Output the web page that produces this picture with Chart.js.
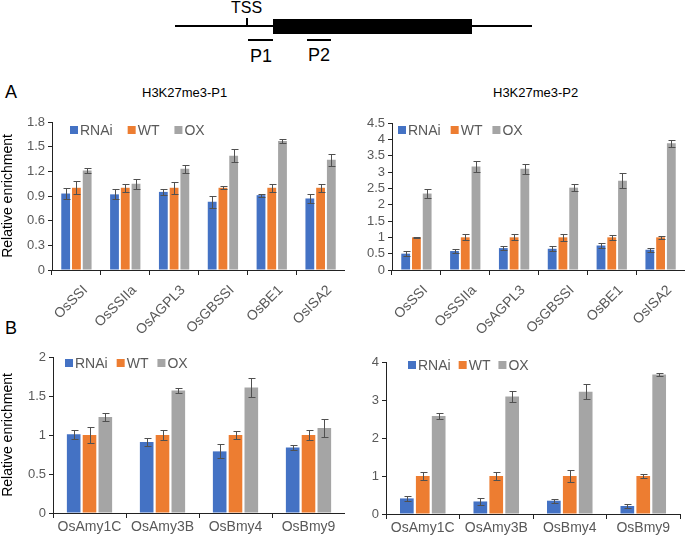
<!DOCTYPE html>
<html>
<head>
<meta charset="UTF-8">
<title>H3K27me3 enrichment</title>
<script src="https://cdn.jsdelivr.net/npm/chart.js@4.4.1/dist/chart.umd.min.js"></script>
<style>
  body { margin: 0; background: #fff; font-family: "Liberation Sans", Arial, sans-serif; }
  #page { position: relative; width: 685px; height: 538px; overflow: hidden; }
  .abs { position: absolute; }
  .ln { position: absolute; background: #000; }
  .txt { position: absolute; color: #000; white-space: nowrap; }
</style>
</head>
<body>
<div id="page">
  <!-- gene diagram -->
  <div class="ln" style="left:175px;top:25px;width:357px;height:2px"></div>
  <div class="ln" style="left:246px;top:18px;width:2px;height:8px"></div>
  <div class="ln" style="left:273px;top:19px;width:199px;height:15px"></div>
  <div class="ln" style="left:248px;top:39px;width:25px;height:2px"></div>
  <div class="ln" style="left:307px;top:39px;width:24px;height:2px"></div>
  <div class="txt" style="left:231px;top:-1px;font-size:16px">TSS</div>
  <div class="txt" style="left:250px;top:46px;font-size:18px">P1</div>
  <div class="txt" style="left:308px;top:45px;font-size:18px">P2</div>

  <div class="txt" style="left:5px;top:82px;font-size:18px">A</div>
  <div class="txt" style="left:5px;top:318px;font-size:18px">B</div>
  <div class="txt" style="left:142px;top:85px;font-size:13px">H3K27me3-P1</div>
  <div class="txt" style="left:493px;top:85px;font-size:13px">H3K27me3-P2</div>

  <div class="abs" style="left:0;top:110px;width:345px;height:225px"><canvas id="a1"></canvas></div>
  <div class="abs" style="left:340px;top:110px;width:345px;height:225px"><canvas id="a2"></canvas></div>
  <div class="abs" style="left:0;top:340px;width:345px;height:198px"><canvas id="b1"></canvas></div>
  <div class="abs" style="left:340px;top:340px;width:345px;height:198px"><canvas id="b2"></canvas></div>
</div>

<script>
// categories
const promoterGenes = ['OsSSI', 'OsSSIIa', 'OsAGPL3', 'OsGBSSI', 'OsBE1', 'OsISA2'];
const amylaseGenes = ['OsAmy1C', 'OsAmy3B', 'OsBmy4', 'OsBmy9'];

// H3K27me3-P1
const p1Rnai = [0.93, 0.92, 0.95, 0.83, 0.91, 0.87];
const p1RnaiErr = [0.07, 0.06, 0.04, 0.07, 0.02, 0.05];
const p1Wt = [1.0, 1.0, 1.0, 1.0, 1.0, 1.0];
const p1WtErr = [0.08, 0.05, 0.07, 0.02, 0.05, 0.05];
const p1Ox = [1.21, 1.05, 1.23, 1.39, 1.57, 1.34];
const p1OxErr = [0.03, 0.06, 0.05, 0.08, 0.02, 0.07];

// H3K27me3-P2
const p2Rnai = [0.50, 0.58, 0.67, 0.65, 0.75, 0.62];
const p2RnaiErr = [0.07, 0.07, 0.05, 0.08, 0.08, 0.06];
const p2Wt = [1.0, 1.0, 1.0, 1.0, 1.0, 1.0];
const p2WtErr = [0.02, 0.09, 0.09, 0.1, 0.08, 0.05];
const p2Ox = [2.34, 3.17, 3.1, 2.52, 2.73, 3.88];
const p2OxErr = [0.15, 0.18, 0.16, 0.1, 0.23, 0.1];

// panel B left
const b1Rnai = [1.01, 0.91, 0.79, 0.84];
const b1RnaiErr = [0.06, 0.05, 0.09, 0.03];
const b1Wt = [1.0, 1.0, 1.0, 1.0];
const b1WtErr = [0.1, 0.07, 0.05, 0.06];
const b1Ox = [1.23, 1.57, 1.61, 1.09];
const b1OxErr = [0.05, 0.03, 0.12, 0.11];

// panel B right
const b2Rnai = [0.41, 0.33, 0.35, 0.21];
const b2RnaiErr = [0.06, 0.08, 0.05, 0.06];
const b2Wt = [1.0, 1.0, 1.0, 1.0];
const b2WtErr = [0.11, 0.1, 0.15, 0.04];
const b2Ox = [2.58, 3.09, 3.22, 3.67];
const b2OxErr = [0.09, 0.14, 0.19, 0.05];

const FONT = '"Liberation Sans", Arial, sans-serif';
const BLUE = '#4472C4', ORANGE = '#ED7D31', GREY = '#A5A5A5';

const errorBars = {
    id: 'errorBars',
    afterDatasetsDraw(chart) {
        const ctx = chart.ctx, y = chart.scales.y;
        chart.data.datasets.forEach((ds, i) => {
            chart.getDatasetMeta(i).data.forEach((bar, j) => {
                const v = ds.data[j], e = ds.errors[j];
                const top = Math.round(y.getPixelForValue(v + e)) + 0.5;
                const bot = Math.round(y.getPixelForValue(v - e)) + 0.5;
                const x = Math.round(bar.x) + 0.5;
                ctx.save();
                ctx.strokeStyle = '#505050';
                ctx.lineWidth = 1;
                ctx.beginPath();
                ctx.moveTo(x, top); ctx.lineTo(x, bot);
                ctx.moveTo(x - 3, top); ctx.lineTo(x + 4, top);
                ctx.moveTo(x - 3, bot); ctx.lineTo(x + 4, bot);
                ctx.stroke();
                ctx.restore();
            });
        });
    }
};

// legend drawn inside the plot area
const innerLegend = {
    id: 'innerLegend',
    afterDraw(chart, args, o) {
        const ctx = chart.ctx, a = chart.chartArea;
        let x = a.left + o.x;
        const y = a.top + o.y;
        ctx.save();
        ctx.font = '14px ' + FONT;
        ctx.textBaseline = 'middle';
        chart.data.datasets.forEach(ds => {
            ctx.fillStyle = ds.backgroundColor;
            ctx.fillRect(x, y - 4, 8, 8);
            ctx.fillStyle = '#595959';
            ctx.fillText(ds.label, x + 10, y + 1);
            x += 10 + ctx.measureText(ds.label).width + o.gap;
        });
        ctx.restore();
    }
};

function createChart(id, labels, series, cfg) {
    const names = ['RNAi', 'WT', 'OX'];
    const colors = [BLUE, ORANGE, GREY];
    new Chart(document.getElementById(id), {
        type: 'bar',
        data: {
            labels: labels,
            datasets: series.map((s, i) => ({
                label: names[i], data: s[0], errors: s[1],
                backgroundColor: colors[i],
                categoryPercentage: cfg.cat, barPercentage: cfg.bar
            }))
        },
        options: {
            responsive: true,
            maintainAspectRatio: false,
            animation: false,
            layout: { padding: { top: cfg.padTop, right: cfg.padRight || 0, left: 0, bottom: 0 } },
            plugins: {
                legend: { display: false },
                tooltip: { enabled: false },
                innerLegend: cfg.legend
            },
            scales: {
                x: {
                    afterFit: s => { s.height = cfg.xHeight; },
                    border: { color: '#222', width: 1 },
                    grid: { display: true, drawOnChartArea: false, offset: true, color: '#222', tickLength: 5 },
                    ticks: {
                        color: '#595959', font: { family: FONT, size: 14 },
                        minRotation: cfg.rot, maxRotation: cfg.rot, autoSkip: false,
                        padding: cfg.rot ? 7 : 1, labelOffset: cfg.rot ? 9 : 0
                    }
                },
                y: {
                    min: 0, max: cfg.max,
                    afterFit: s => { s.width = cfg.yWidth; },
                    border: { color: '#222', width: 1 },
                    grid: { display: true, drawOnChartArea: false, color: '#222', tickLength: 4 },
                    ticks: {
                        stepSize: cfg.step, autoSkip: false, color: '#595959',
                        font: { family: FONT, size: 13 }, padding: 3,
                        callback: v => String(+v.toFixed(2))
                    },
                    title: {
                        display: cfg.yTitle, text: 'Relative enrichment', color: '#000',
                        font: { family: FONT, size: 14 }, padding: 0
                    }
                }
            }
        },
        plugins: [errorBars, innerLegend]
    });
}

createChart('a1', promoterGenes,
    [[p1Rnai, p1RnaiErr], [p1Wt, p1WtErr], [p1Ox, p1OxErr]],
    { max: 1.8, step: 0.3, padTop: 12, xHeight: 65, yWidth: 52, rot: 45, yTitle: true,
      cat: 0.66, bar: 0.82, legend: { x: 18, y: 8, gap: 15 } });

createChart('a2', promoterGenes,
    [[p2Rnai, p2RnaiErr], [p2Wt, p2WtErr], [p2Ox, p2OxErr]],
    { max: 4.5, step: 0.5, padTop: 13, xHeight: 65, yWidth: 52, rot: 45, yTitle: false,
      cat: 0.66, bar: 0.82, legend: { x: 6, y: 7, gap: 10 } });

createChart('b1', amylaseGenes,
    [[b1Rnai, b1RnaiErr], [b1Wt, b1WtErr], [b1Ox, b1OxErr]],
    { max: 2, step: 0.5, padTop: 17, xHeight: 25, yWidth: 53, rot: 0, yTitle: true,
      cat: 0.65, bar: 0.86, legend: { x: 12, y: 6, gap: 9 } });

createChart('b2', amylaseGenes,
    [[b2Rnai, b2RnaiErr], [b2Wt, b2WtErr], [b2Ox, b2OxErr]],
    { max: 4, step: 1, padTop: 22, padRight: 5, xHeight: 24, yWidth: 46, rot: 0, yTitle: false,
      cat: 0.65, bar: 0.86, legend: { x: 22, y: 3, gap: 8 } });
</script>
</body>
</html>
